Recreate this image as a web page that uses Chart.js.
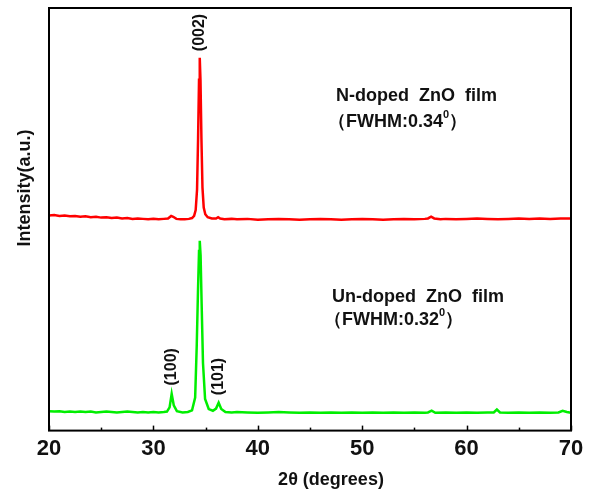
<!DOCTYPE html>
<html>
<head>
<meta charset="utf-8">
<script src="https://cdn.jsdelivr.net/npm/chart.js@4/dist/chart.umd.min.js"></script>
<style>
  html, body { margin: 0; padding: 0; background: #fff; }
  #wrap { width: 592px; height: 492px; }
</style>
</head>
<body>
<div id="wrap"><canvas id="xrd"></canvas></div>
<script>
// 2theta / intensity (a.u.)
const nDopedTheta = [20, 20.5, 21, 21.5, 22, 22.5, 23, 23.5, 24, 24.5, 25, 25.5, 26, 26.5, 27, 27.5, 28, 28.5, 29, 29.5, 30, 30.5, 31, 31.4, 31.7, 31.9, 32.2, 32.6, 33, 33.4, 33.7, 33.9, 34.05, 34.18, 34.28, 34.37, 34.44, 34.51, 34.6, 34.7, 34.82, 34.97, 35.2, 35.6, 36, 36.2, 36.4, 36.8, 37.5, 38, 39, 40, 41, 42, 43, 44, 45, 46, 47, 48, 49, 50, 51, 52, 53, 54, 55, 56, 56.3, 56.6, 56.9, 57.5, 58, 59, 60, 61, 62, 63, 64, 65, 66, 67, 68, 69, 70];
const nDopedInt = [509, 510, 508, 509, 507, 508, 506, 507, 505, 506, 504, 505, 503, 504, 502, 503, 501, 502, 501, 500, 501, 500, 501, 502, 508, 506, 501, 500, 500, 501, 503, 508, 522, 570, 692, 830, 882, 830, 692, 575, 528, 512, 505, 502, 502, 505, 502, 500, 501, 500, 501, 499, 500, 501, 500, 499, 500, 501, 500, 499, 500, 501, 500, 499, 500, 501, 500, 501, 502, 506, 502, 500, 501, 500, 501, 502, 501, 500, 501, 502, 501, 502, 501, 502, 502];

const unDopedTheta = [20, 20.5, 21, 21.5, 22, 22.5, 23, 23.5, 24, 24.5, 25, 25.5, 26, 26.5, 27, 27.5, 28, 28.5, 29, 29.5, 30, 30.5, 31, 31.3, 31.55, 31.75, 31.95, 32.25, 32.8, 33.3, 33.7, 34.0, 34.15, 34.27, 34.37, 34.44, 34.52, 34.62, 34.75, 34.95, 35.3, 35.7, 36.0, 36.25, 36.5, 36.9, 37.5, 38, 39, 40, 41, 42, 43, 44, 45, 46, 47, 48, 49, 50, 51, 52, 53, 54, 55, 56, 56.3, 56.65, 57, 58, 59, 60, 61, 62, 62.6, 62.9, 63.2, 64, 65, 66, 67, 68, 68.8, 69.2, 69.6, 70];
const unDopedInt = [46, 45, 46, 44, 45, 44, 45, 44, 45, 43, 44, 45, 44, 43, 44, 45, 44, 43, 44, 43, 44, 43, 44, 45, 55, 87, 60, 46, 43, 44, 48, 78, 200, 330, 425, 449, 415, 300, 160, 75, 51, 47, 52, 66, 51, 44, 43, 44, 43, 42, 43, 44, 43, 42, 43, 42, 43, 42, 43, 42, 43, 42, 43, 42, 43, 42, 43, 47, 42, 43, 42, 43, 42, 43, 43, 50, 43, 42, 43, 42, 43, 42, 43, 47, 44, 42];

const xTicks = [20, 30, 40, 50, 60, 70];
const minorTicks = [25, 35, 45, 55, 65];

// rotated peak labels: [2theta, intensity, text]
const peakLabels = [
  [34.44, 942, '(002)'],
  [31.75, 151, '(100)'],
  [36.25, 128, '(101)']
];

const toPts = (xs, ys) => xs.map((x, i) => ({ x: x, y: ys[i] }));

const boldFont = size => 'bold ' + size + 'px "Liberation Sans", Arial, sans-serif';

const decorations = {
  id: 'decorations',
  afterDraw(chart) {
    const ctx = chart.ctx;
    const area = chart.chartArea;
    const xs = chart.scales.x;
    const ys = chart.scales.y;
    ctx.save();

    // frame
    ctx.strokeStyle = '#000';
    ctx.lineWidth = 2;
    ctx.strokeRect(area.left, area.top, area.right - area.left, area.bottom - area.top);

    // inward ticks on the bottom axis
    ctx.lineWidth = 1.5;
    xTicks.forEach(v => {
      const px = Math.round(xs.getPixelForValue(v)) + 0.5;
      ctx.beginPath();
      ctx.moveTo(px, area.bottom);
      ctx.lineTo(px, area.bottom - 5);
      ctx.stroke();
    });
    minorTicks.forEach(v => {
      const px = Math.round(xs.getPixelForValue(v)) + 0.5;
      ctx.beginPath();
      ctx.moveTo(px, area.bottom);
      ctx.lineTo(px, area.bottom - 3);
      ctx.stroke();
    });

    ctx.fillStyle = '#111';

    // peak labels
    ctx.font = boldFont(16);
    ctx.textAlign = 'center';
    ctx.textBaseline = 'middle';
    peakLabels.forEach(p => {
      ctx.save();
      ctx.translate(xs.getPixelForValue(p[0]), ys.getPixelForValue(p[1]));
      ctx.rotate(-Math.PI / 2);
      ctx.fillText(p[2], 0, 0);
      ctx.restore();
    });

    // sample captions
    ctx.textAlign = 'left';
    ctx.font = boldFont(18);
    ctx.fillText('N-doped  ZnO  film', 336, 96);
    ctx.fillText('Un-doped  ZnO  film', 332, 297);
    const fwhm = (x, y, val) => {
      ctx.font = boldFont(18);
      let t = '\uFF08FWHM:' + val;
      ctx.fillText(t, x, y);
      let w = ctx.measureText(t).width;
      ctx.font = boldFont(11);
      ctx.fillText('0', x + w, y - 7);
      w += ctx.measureText('0').width;
      ctx.font = boldFont(18);
      ctx.fillText('\uFF09', x + w, y);
    };
    fwhm(328, 122, '0.34');
    fwhm(324, 320, '0.32');

    // axis titles
    ctx.textAlign = 'center';
    ctx.font = boldFont(18);
    ctx.fillText('2\u03B8 (degrees)', 331, 480);
    ctx.save();
    ctx.translate(25, 188);
    ctx.rotate(-Math.PI / 2);
    ctx.fillText('Intensity(a.u.)', 0, 0);
    ctx.restore();

    ctx.restore();
  }
};

new Chart(document.getElementById('xrd'), {
  type: 'line',
  data: {
    datasets: [
      {
        label: 'N-doped ZnO film',
        data: toPts(nDopedTheta, nDopedInt),
        borderColor: '#ff0000',
        borderWidth: 2.5,
        pointRadius: 0,
        tension: 0
      },
      {
        label: 'Un-doped ZnO film',
        data: toPts(unDopedTheta, unDopedInt),
        borderColor: '#00ee00',
        borderWidth: 2.5,
        pointRadius: 0,
        tension: 0
      }
    ]
  },
  options: {
    responsive: true,
    maintainAspectRatio: false,
    animation: false,
    layout: { padding: { left: 49, right: 21, top: 8, bottom: 25 } },
    plugins: {
      legend: { display: false },
      tooltip: { enabled: false }
    },
    scales: {
      x: {
        type: 'linear',
        min: 20,
        max: 70,
        afterBuildTicks: axis => { axis.ticks = xTicks.map(v => ({ value: v })); },
        grid: { display: false, drawTicks: false },
        border: { display: false },
        ticks: {
          color: '#111',
          padding: 5,
          font: { family: '"Liberation Sans", Arial, sans-serif', size: 22, weight: 'bold' }
        }
      },
      y: {
        display: false,
        min: 0,
        max: 1000
      }
    }
  },
  plugins: [decorations]
});
</script>
</body>
</html>
